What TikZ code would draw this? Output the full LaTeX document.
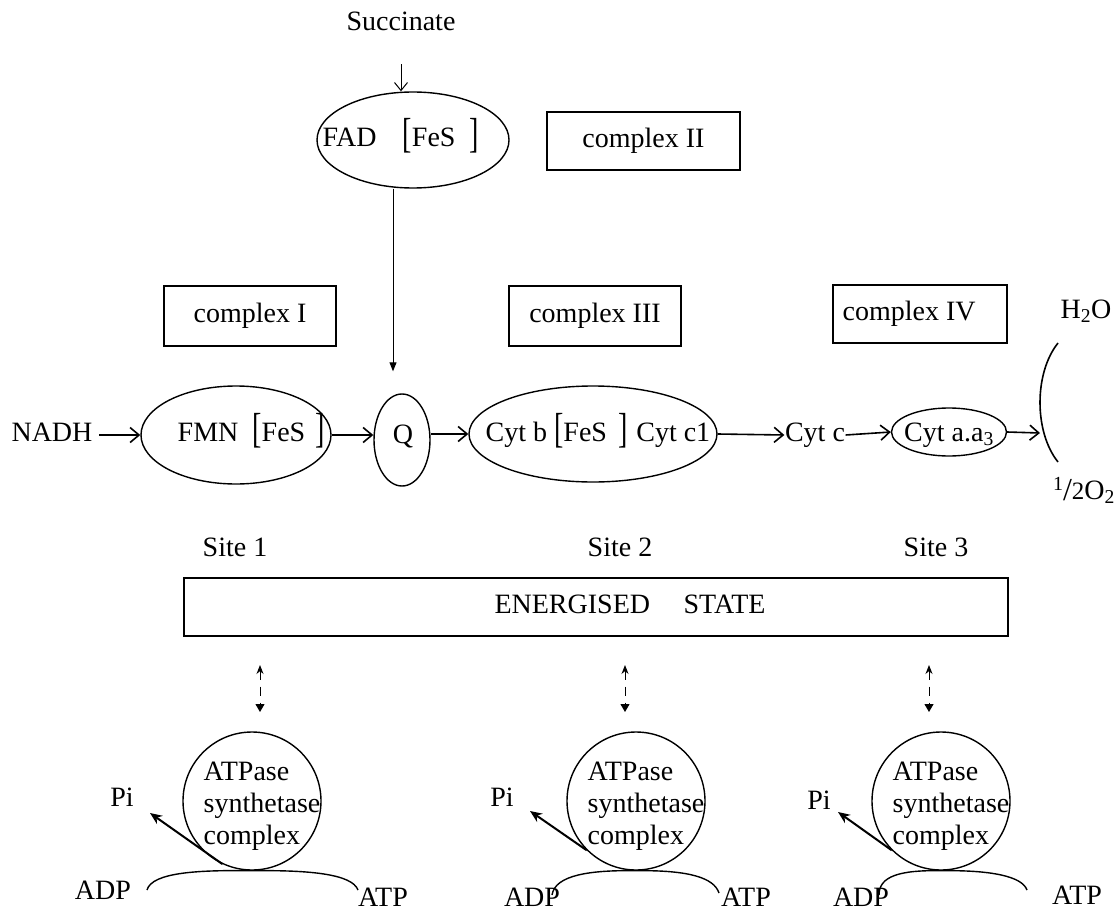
\documentclass[tikz,border=0pt]{standalone}
\usepackage{fontspec}
\setmainfont{Liberation Serif}
\usetikzlibrary{shapes.geometric,arrows.meta}
\newcommand{\bbr}[1]{\raisebox{-1pt}{\scalebox{1}[1.5]{#1}}}
\begin{document}
\begin{tikzpicture}[x=1pt,y=-1pt,
  font=\fontsize{28}{32}\selectfont,
  line width=1.4pt,
  txt/.style={inner sep=0pt, text height=19pt, text depth=6pt},
  ell/.style={draw, ellipse, inner sep=0pt},
  cbox/.style={draw, rectangle, inner sep=0pt},
  barb/.style={line width=1.6pt, -{Straight Barb[length=9pt,width=15pt]}},
  thinbarb/.style={line width=1pt, -{Straight Barb[length=8pt,width=13pt]}},
  tri/.style={line width=1pt, -{Triangle[length=9pt,width=7pt]}},
  dasharr/.style={line width=1pt, dash pattern=on 9pt off 7pt,
     {Stealth[length=9pt,width=7pt]}-{Triangle[length=8pt,width=9pt]}},
  piarr/.style={line width=2pt, -{Stealth[length=12pt,width=10pt]}},
  atpc/.style={draw, circle, minimum size=138pt, inner sep=0pt},
  atpt/.style={anchor=west, align=left, inner sep=0pt, font=\fontsize{28}{32}\selectfont}
]
\useasboundingbox (0,0) rectangle (1116,915);

% top: succinate / complex II
\node[txt] (succ) at (401,24) {Succinate};
\node[ell, minimum width=192pt, minimum height=96pt] (fad) at (413,140) {};
\node[txt, anchor=west] (fadt) at (322,140) {FAD\hspace{26pt}\bbr{[}FeS\hspace{14pt}\bbr{]}};
\node[cbox, minimum width=193pt, minimum height=58pt] (c2) at (643.5,141) {complex II};
\draw[thinbarb] ([yshift=-27pt]succ.south) -- (succ.south |- fad.north);

% complex boxes
\node[cbox, minimum width=172pt, minimum height=60pt] (c1) at (250,316) {complex I};
\node[cbox, minimum width=172pt, minimum height=60pt] (c3) at (595,316) {complex III};
\node[cbox, minimum width=174pt, minimum height=58pt] (c4) at (920,314) {};
\node[txt, anchor=west] (c4t) at (842,314) {complex IV};
\node[txt] (h2o) at (1086,312) {H\textsubscript{2}O};

% main chain
\node[txt] (nadh) at (52,435) {NADH};
\node[ell, minimum width=190pt, minimum height=98pt] (fmn) at (236,435) {};
\node[txt, anchor=west] (fmnt) at (177,435) {FMN\hspace{14pt}\bbr{[}FeS\hspace{10pt}\bbr{]}};
\node[ell, minimum width=56pt, minimum height=92pt] (q) at (402,440) {};
\node[txt] (qt) at (403,437) {Q};
\node[ell, minimum width=248pt, minimum height=96pt] (cytb) at (593,434) {};
\node[txt, anchor=west] (cytbt) at (485,435) {Cyt b\hspace{7pt}\bbr{[}FeS\hspace{11pt}\bbr{]}\hspace{9pt}Cyt c1};
\node[txt] (cytc) at (815,435) {Cyt c};
\node[ell, minimum width=115pt, minimum height=48pt] (cyta) at (949,432) {};
\node[txt] (cytat) at (949,435) {Cyt a.a\textsubscript{3}};
\node[txt] (o2) at (1084,493) {\raisebox{9pt}{\fontsize{20}{20}\selectfont 1}\raisebox{-1pt}{\fontsize{32}{32}\selectfont /}{\fontsize{25}{25}\selectfont 2}O\textsubscript{2}};

\coordinate (vx) at (393,0);
\draw[tri] (vx |- fad.south) -- ([yshift=22pt]vx |- q.north);

\draw[barb, shorten <=6pt] (nadh.east) -- (fmn.west);
\draw[barb] (fmn.east) -- (fmn.east -| q.west);
\draw[barb] (cytb.west -| q.east) -- (cytb.west);
\draw[barb] (cytb.east) -- (cytc.west);
\draw[barb] (cytc.east) -- (cyta.west);
\coordinate (brk) at (1040,433);
\coordinate (bt) at (1058,343);
\coordinate (bb) at (1058,462);
\draw[barb] (cyta.east) -- (brk);
\draw[line width=1.6pt] (bt) .. controls (1034,373) and (1034,432) .. (bb);

% sites and energised state
\node[txt] (s1) at (235,550) {Site 1};
\node[txt] (s2) at (620,550) {Site 2};
\node[txt] (s3) at (936,550) {Site 3};
\node[cbox, minimum width=824pt, minimum height=58pt] (es) at (596,607) {};
\node[txt] (est) at (630,607) {ENERGISED\hspace{1.2em}STATE};

% dashed double arrows
\coordinate (d1t) at (260,665); \coordinate (d1b) at (260,712);
\coordinate (d2t) at (625,665); \coordinate (d2b) at (625,712);
\coordinate (d3t) at (929,665); \coordinate (d3b) at (929,712);
\draw[dasharr] (d1t) -- (d1b);
\draw[dasharr] (d2t) -- (d2b);
\draw[dasharr] (d3t) -- (d3b);

% ATPase circles
\node[atpc] (a1) at (252,801) {};
\node[atpc] (a2) at (636,801) {};
\node[atpc] (a3) at (941,801) {};
\node[atpt] (a1t) at (203,806) {ATPase\\synthetase\\complex};
\node[atpt] (a2t) at (587,806) {ATPase\\synthetase\\complex};
\node[atpt] (a3t) at (892,806) {ATPase\\synthetase\\complex};

\node[txt] (pi1) at (122,800) {Pi};
\node[txt] (pi2) at (502,800) {Pi};
\node[txt] (pi3) at (819,803) {Pi};
\node[txt] (adp1) at (103,893) {ADP};
\node[txt] (atp1) at (383,900) {ATP};
\node[txt] (adp2) at (532,900) {ADP};
\node[txt] (atp2) at (746,900) {ATP};
\node[txt] (adp3) at (861,900) {ADP};
\node[txt] (atp3) at (1077,898) {ATP};

\coordinate (l1) at (147,890); \coordinate (r1) at (358,890);
\coordinate (l2) at (552,895); \coordinate (r2) at (719,893);
\coordinate (l3) at (879,895); \coordinate (r3) at (1027,890);
\draw (l1) .. controls (152,872) and (200,870) .. (a1.south) .. controls (310,870) and (352,874) .. (r1);
\draw (l2) .. controls (555,875) and (590,870) .. (a2.south) .. controls (690,870) and (714,878) .. (r2);
\draw (l3) .. controls (879,876) and (900,870) .. (a3.south) .. controls (990,870) and (1022,876) .. (r3);

\coordinate (t1) at (150,813);
\coordinate (t2) at (530,811);
\coordinate (t3) at (838,812);
\draw[piarr] (a1.245) -- (t1);
\draw[piarr] (a2.225) -- (t2);
\draw[piarr] (a3.225) -- (t3);
\end{tikzpicture}
\end{document}
